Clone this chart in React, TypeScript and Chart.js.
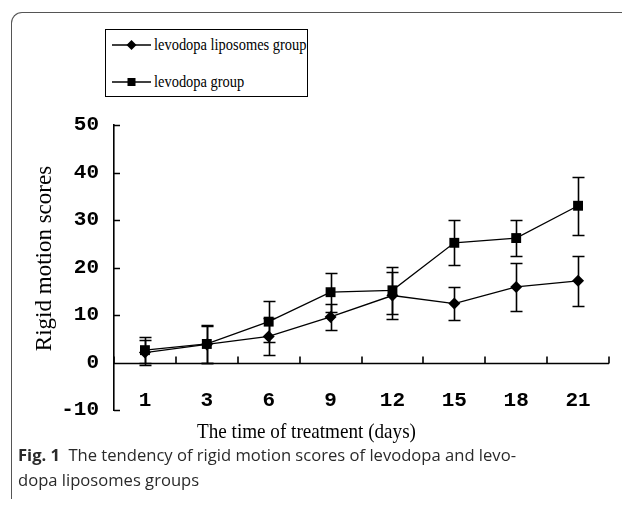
import React, { useEffect, useRef } from 'react';
import { Chart, registerables } from 'chart.js';

Chart.register(...registerables);

const days = ['1', '3', '6', '9', '12', '15', '18', '21'];
const liposomesLabel = 'levodopa liposomes group';
const levodopaLabel = 'levodopa group';
const liposomesMean = [2.1, 3.8, 5.5, 9.6, 14.1, 12.4, 15.9, 17.2];
const liposomesSD = [2.7, 3.8, 3.9, 2.8, 5.0, 3.5, 5.1, 5.2];
const levodopaMean = [2.6, 3.9, 8.6, 14.8, 15.2, 25.2, 26.2, 33.0];
const levodopaSD = [2.7, 4.0, 4.3, 4.1, 4.9, 4.7, 3.8, 6.1];
const yMin = -10;
const yMax = 50;
const yStep = 10;
const xTitle = 'The time of treatment (days)';
const yTitle = 'Rigid motion scores';

const errorSets = [liposomesSD, levodopaSD];
const meanSets = [liposomesMean, levodopaMean];
const tickFont = '"Liberation Mono", "Courier New", monospace';

const errorBarPlugin = {
  id: 'errorBars',
  afterDatasetsDraw(chart: any) {
    const ctx = chart.ctx;
    const y = chart.scales.y;
    ctx.save();
    ctx.strokeStyle = '#000';
    ctx.lineWidth = 1.6;
    chart.data.datasets.forEach((ds: any, di: number) => {
      const meta = chart.getDatasetMeta(di);
      meta.data.forEach((pt: any, i: number) => {
        const m = meanSets[di][i];
        const e = errorSets[di][i];
        const yt = Math.round(y.getPixelForValue(m + e)) + 0.5;
        const yb = Math.round(y.getPixelForValue(m - e)) + 0.5;
        const x = Math.round(pt.x) + 0.5;
        ctx.beginPath();
        ctx.moveTo(x, yt);
        ctx.lineTo(x, yb);
        ctx.moveTo(x - 6, yt);
        ctx.lineTo(x + 6, yt);
        ctx.moveTo(x - 6, yb);
        ctx.lineTo(x + 6, yb);
        ctx.stroke();
      });
    });
    ctx.restore();
  },
};

const axesPlugin = {
  id: 'axesDeco',
  beforeDatasetsDraw(chart: any) {
    const ctx = chart.ctx;
    const x = chart.scales.x;
    const y = chart.scales.y;
    const area = chart.chartArea;
    ctx.save();
    ctx.strokeStyle = '#000';
    ctx.lineWidth = 1.6;
    const y0 = Math.round(y.getPixelForValue(0)) + 0.5;
    ctx.beginPath();
    ctx.moveTo(area.left, y0);
    ctx.lineTo(area.right, y0);
    for (let i = 0; i <= days.length; i++) {
      const px = Math.round(x.getPixelForValue(i - 0.5));
      ctx.moveTo(px, y0);
      ctx.lineTo(px, y0 - 7);
    }
    y.ticks.forEach((t: any) => {
      const py = Math.round(y.getPixelForValue(t.value)) + 0.5;
      ctx.moveTo(area.left, py);
      ctx.lineTo(area.left + 6, py);
    });
    ctx.stroke();

    // category tick labels (drawn just above the -10 level, as in the source figure)
    ctx.fillStyle = '#000';
    ctx.font = 'bold 21px ' + tickFont;
    ctx.textAlign = 'center';
    ctx.textBaseline = 'middle';
    days.forEach((d, i) => {
      ctx.fillText(d, x.getPixelForValue(i), area.bottom - 9);
    });

    // axis titles
    ctx.font = '22px "Liberation Serif", "Times New Roman", serif';
    ctx.save();
    ctx.translate((area.left + area.right) / 2 - 55, area.bottom + 22);
    ctx.scale(0.87, 1);
    ctx.fillText(xTitle, 0, 0);
    ctx.restore();
    ctx.font = '23px "Liberation Serif", "Times New Roman", serif';
    ctx.translate(45, (area.top + area.bottom) / 2 - 9);
    ctx.rotate(-Math.PI / 2);
    ctx.fillText(yTitle, 0, 0);
    ctx.restore();
  },
};

function LegendMarker({ shape }: { shape: 'diamond' | 'square' }) {
  return (
    <svg width={40} height={14} style={{ display: 'block' }}>
      <line x1={0} y1={7} x2={39} y2={7} stroke="#000" strokeWidth={1.3} />
      {shape === 'diamond' ? (
        <polygon points="19.5,2 24.5,7 19.5,12 14.5,7" fill="#000" />
      ) : (
        <rect x={15.5} y={3} width={8} height={8} fill="#000" />
      )}
    </svg>
  );
}

const legendText: React.CSSProperties = {
  marginLeft: 2,
  display: 'inline-block',
  transform: 'scaleX(0.85)',
  transformOrigin: 'left center',
};

export default function App() {
  const canvasRef = useRef<HTMLCanvasElement | null>(null);

  useEffect(() => {
    if (!canvasRef.current) return;
    const chart = new Chart(canvasRef.current, {
      type: 'line',
      data: {
        labels: days,
        datasets: [
          {
            label: liposomesLabel,
            data: liposomesMean,
            borderColor: '#000',
            backgroundColor: '#000',
            borderWidth: 1.3,
            pointStyle: 'rectRot',
            pointRadius: 6,
            pointBorderWidth: 0,
            tension: 0,
          },
          {
            label: levodopaLabel,
            data: levodopaMean,
            borderColor: '#000',
            backgroundColor: '#000',
            borderWidth: 1.3,
            pointStyle: 'rect',
            pointRadius: 7,
            pointBorderWidth: 0,
            tension: 0,
          },
        ],
      },
      options: {
        responsive: false,
        animation: false,
        layout: { padding: { left: 0, top: 125, right: 13, bottom: 0 } },
        plugins: {
          legend: { display: false },
          tooltip: { enabled: false },
        },
        scales: {
          x: {
            type: 'category',
            offset: true,
            grid: { display: false, drawTicks: false },
            border: { display: false },
            ticks: { display: false },
            afterFit: (s: any) => {
              s.height = 96;
            },
          },
          y: {
            min: yMin,
            max: yMax,
            grid: { display: false, drawTicks: false },
            border: { display: true, color: '#000', width: 1.6 },
            ticks: {
              stepSize: yStep,
              color: '#000',
              padding: 15,
              font: { family: tickFont, size: 21, weight: 'bold' },
            },
            afterFit: (s: any) => {
              s.width = 114;
            },
          },
        },
      },
      plugins: [axesPlugin, errorBarPlugin],
    });
    return () => chart.destroy();
  }, []);

  return (
    <div
      style={{
        position: 'absolute',
        left: 0,
        top: 0,
        width: 622,
        height: 506,
        overflow: 'hidden',
        background: '#fff',
      }}
    >
      <div
        style={{
          position: 'absolute',
          left: 11,
          top: 12,
          width: 700,
          height: 486,
          borderLeft: '1.5px solid #555',
          borderTop: '1.5px solid #555',
          borderTopLeftRadius: 11,
        }}
      />
      <canvas
        ref={canvasRef}
        width={622}
        height={506}
        style={{ position: 'absolute', left: 0, top: 0, width: 622, height: 506 }}
      />
      <div
        style={{
          position: 'absolute',
          left: 105,
          top: 29,
          width: 201,
          height: 66,
          border: '1.5px solid #000',
          fontFamily: '"Liberation Serif", "Times New Roman", serif',
          fontSize: 17,
          color: '#000',
          background: '#fff',
        }}
      >
        <div style={{ position: 'absolute', left: 6, top: 5, display: 'flex', alignItems: 'center', whiteSpace: 'nowrap' }}>
          <LegendMarker shape="diamond" />
          <span style={legendText}>{liposomesLabel}</span>
        </div>
        <div style={{ position: 'absolute', left: 6, top: 42, display: 'flex', alignItems: 'center', whiteSpace: 'nowrap' }}>
          <LegendMarker shape="square" />
          <span style={legendText}>{levodopaLabel}</span>
        </div>
      </div>
      <div
        style={{
          position: 'absolute',
          left: 18,
          top: 442,
          width: 580,
          fontFamily: '"Open Sans", "Noto Sans", sans-serif',
          fontSize: 16.6,
          lineHeight: '25px',
          color: '#2a2a2a',
        }}
      >
        <span style={{ fontWeight: 700 }}>Fig. 1</span>
        {'\u2002The tendency of rigid motion scores of levodopa and levo-'}
        <br />
        {'dopa liposomes groups'}
      </div>
    </div>
  );
}
